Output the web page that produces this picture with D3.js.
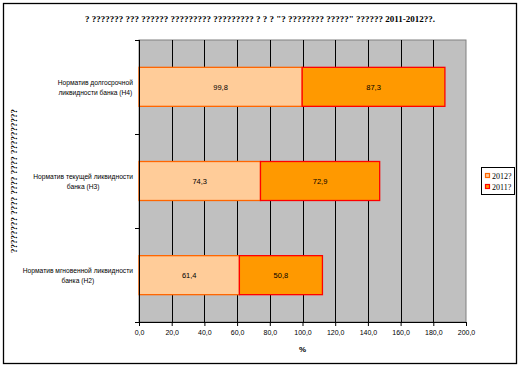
<!DOCTYPE html>
<html>
<head>
<meta charset="utf-8">
<script src="https://cdn.jsdelivr.net/npm/d3@7"></script>
<style>
  body { margin: 0; background: #fff; }
  svg text { font-family: Arial, "Liberation Sans", sans-serif; }
</style>
</head>
<body>
<div id="chart"></div>
<script>
// data
const categories = [
    ["Норматив долгосрочной", "ликвидности банка (Н4)"],
    ["Норматив текущей ликвидности", "банка (Н3)"],
    ["Норматив мгновенной ликвидности", "банка (Н2)"]
];
const seriesNames = ["2012?", "2011?"];
const values2012 = [99.8, 74.3, 61.4];
const values2011 = [87.3, 72.9, 50.8];
const xTicks = [0, 20, 40, 60, 80, 100, 120, 140, 160, 180, 200];
const title = "? ??????? ??? ?????? ????????? ????????? ? ? ?  \"? ???????? ?????\" ?????? 2011-2012??.";
const yTitle = "???????? ???? ???? ????  ??????????";

const W = 520, H = 367;
const plot = { left: 139, right: 466, top: 40, bottom: 322 };
const fills = ["#FFCC99", "#FF9900"];
const strokes = ["#FF6600", "#FF0000"];

const svg = d3.select("#chart").append("svg")
    .attr("width", W)
    .attr("height", H);

svg.append("rect")
    .attr("x", 3.5).attr("y", 3.5)
    .attr("width", 513).attr("height", 360)
    .attr("fill", "#fff").attr("stroke", "#000").attr("stroke-width", 1.3);

const x = d3.scaleLinear().domain([0, 200]).range([plot.left, plot.right]);
const y = d3.scaleBand().domain(d3.range(categories.length))
    .range([plot.top, plot.bottom]).paddingInner(0.585).paddingOuter(0.29);

// plot area
svg.append("rect")
    .attr("x", plot.left).attr("y", plot.top)
    .attr("width", plot.right - plot.left).attr("height", plot.bottom - plot.top)
    .attr("fill", "#C0C0C0").attr("stroke", "#808080").attr("stroke-width", 1);

// gridlines
svg.append("g").selectAll("line")
    .data(xTicks.slice(1, -1))
    .join("line")
    .attr("x1", d => Math.round(x(d)) + 0.5).attr("x2", d => Math.round(x(d)) + 0.5)
    .attr("y1", plot.top).attr("y2", plot.bottom)
    .attr("stroke", "#000").attr("stroke-width", 1);

// stacked bars
const stacked = categories.map((c, i) => [
    { s: 0, x0: 0, x1: values2012[i], v: values2012[i], i },
    { s: 1, x0: values2012[i], x1: values2012[i] + values2011[i], v: values2011[i], i }
]).flat();

const barH = 39;
svg.append("g").selectAll("rect")
    .data(stacked)
    .join("rect")
    .attr("x", d => x(d.x0))
    .attr("y", d => y(d.i) + y.bandwidth() / 2 - barH / 2)
    .attr("width", d => x(d.x1) - x(d.x0))
    .attr("height", barH)
    .attr("fill", d => fills[d.s])
    .attr("stroke", d => strokes[d.s])
    .attr("stroke-width", 1.3);

svg.append("g").selectAll("text")
    .data(stacked)
    .join("text")
    .attr("x", d => (x(d.x0) + x(d.x1)) / 2)
    .attr("y", d => y(d.i) + y.bandwidth() / 2 + 3)
    .attr("text-anchor", "middle")
    .attr("font-size", 7.5)
    .attr("fill", "#000")
    .text(d => d.v.toFixed(1).replace(".", ","));

// x axis
const xAxis = svg.append("g")
    .attr("transform", `translate(0,${plot.bottom})`)
    .call(d3.axisBottom(x).tickValues(xTicks).tickSize(4).tickSizeOuter(0)
        .tickFormat(d => d.toFixed(1).replace(".", ",")));
xAxis.select(".domain").attr("stroke", "#000");
xAxis.selectAll(".tick line").attr("stroke", "#000");
xAxis.selectAll("text").attr("font-size", 7).attr("font-family", "Arial").attr("dy", "0.9em").attr("fill", "#000");

svg.append("text")
    .attr("x", (plot.left + plot.right) / 2)
    .attr("y", 352)
    .attr("text-anchor", "middle")
    .attr("font-size", 8).attr("font-weight", "bold")
    .text("%");

// y axis line + ticks at category borders
svg.append("line")
    .attr("x1", plot.left + 0.5).attr("x2", plot.left + 0.5)
    .attr("y1", plot.top).attr("y2", plot.bottom)
    .attr("stroke", "#000");
const bounds = [0, 1, 2, 3].map(i => plot.top + i * (plot.bottom - plot.top) / 3);
svg.append("g").selectAll("line")
    .data(bounds)
    .join("line")
    .attr("x1", plot.left - 4).attr("x2", plot.left)
    .attr("y1", d => Math.round(d) + 0.5).attr("y2", d => Math.round(d) + 0.5)
    .attr("stroke", "#000");

// category labels
const labels = svg.append("g").selectAll("g")
    .data(categories)
    .join("g");
labels.each(function (lines, i) {
    const g = d3.select(this);
    const cy = y(i) + y.bandwidth() / 2;
    const t = lines.map((ln, k) => g.append("text")
        .attr("font-size", 6.7)
        .attr("text-anchor", "middle")
        .attr("y", cy - 2 + k * 10)
        .attr("fill", "#000")
        .text(ln));
    const maxW = d3.max(t, s => s.node().getComputedTextLength());
    t.forEach(s => s.attr("x", 133 - maxW / 2));
});

// y title
svg.append("text")
    .attr("transform", `translate(17,${(plot.top + plot.bottom) / 2}) rotate(-90)`)
    .attr("text-anchor", "middle")
    .attr("font-size", 9)
    .attr("font-weight", "bold")
    .style("font-family", "'Liberation Serif', serif")
    .text(yTitle);

// title
svg.append("text")
    .attr("x", 260).attr("y", 22)
    .attr("text-anchor", "middle")
    .attr("font-size", 9)
    .attr("font-weight", "bold")
    .style("font-family", "'Liberation Serif', serif")
    .text(title);

// legend
const lg = svg.append("g");
lg.append("rect")
    .attr("x", 481.5).attr("y", 167.5)
    .attr("width", 33).attr("height", 27)
    .attr("fill", "#fff").attr("stroke", "#000");
seriesNames.forEach((name, i) => {
    lg.append("rect")
        .attr("x", 485.5).attr("y", 173.5 + i * 11)
        .attr("width", 4).attr("height", 4)
        .attr("fill", fills[i]).attr("stroke", strokes[i]).attr("stroke-width", 1.2);
    lg.append("text")
        .attr("x", 492).attr("y", 178.5 + i * 11)
        .attr("font-size", 8)
        .style("font-family", "'Liberation Serif', serif")
        .text(name);
});
</script>
</body>
</html>
